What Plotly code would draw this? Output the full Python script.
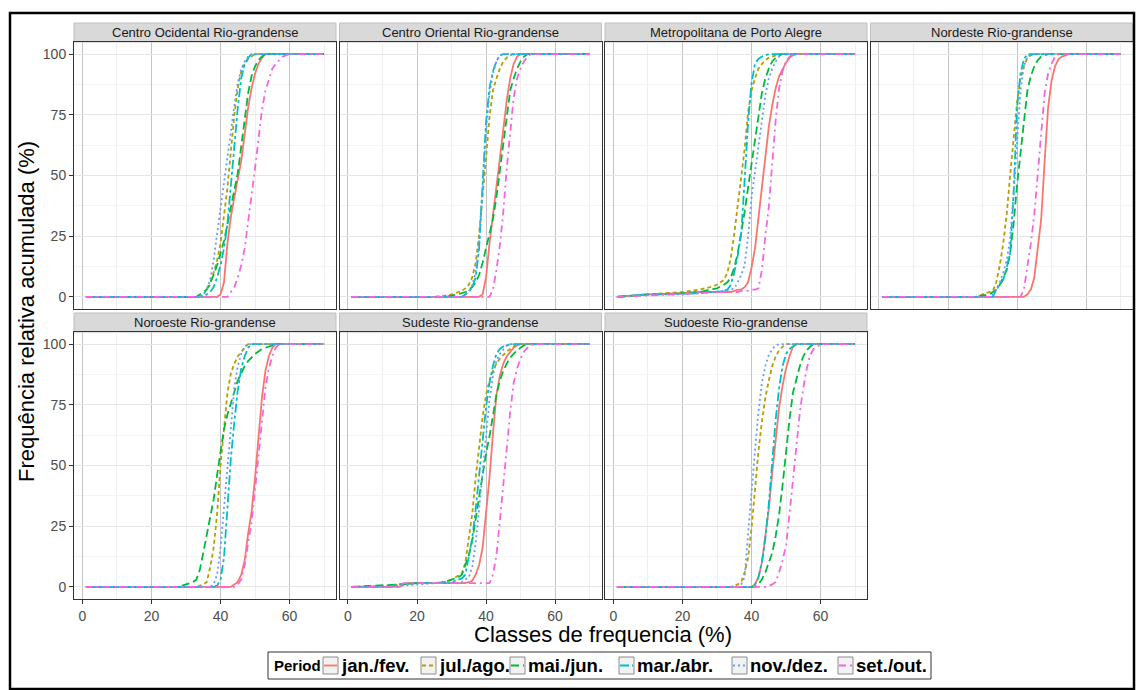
import plotly.graph_objects as go

# ---------------- data ----------------
REGIONS = ["Centro Ocidental Rio-grandense", "Centro Oriental Rio-grandense",
           "Metropolitana de Porto Alegre", "Nordeste Rio-grandense",
           "Noroeste Rio-grandense", "Sudeste Rio-grandense", "Sudoeste Rio-grandense"]
PERIODS = ["jan./fev.", "jul./ago.", "mai./jun.", "mar./abr.", "nov./dez.", "set./out."]
COLORS = ["#F8766D", "#B79F00", "#00BA38", "#00BFC4", "#619CFF", "#F564E3"]
DASHES = ["solid", "4px,3px", "8px,4px", "9px,3px,3px,3px", "2px,3px", "7px,4px,2px,4px"]
X_TICKS = [0, 20, 40, 60]
Y_TICKS = [0, 25, 50, 75, 100]

# (class %, cumulative %) pairs
CO_JAN = [(1,0),(39,0),(40,1),(41,6),(42,22),(43,33),(44,41),(45,48),(46,56),(47,67),(48,78),(49,86),(50,92),(51,96),(52,98.5),(53,100),(70,100)]
CO_JUL = [(1,0),(34,0),(35,1),(36,3),(37,5),(38,10),(39,15),(40,22),(41,33),(42,45),(43,60),(44,75),(45,86),(46,93),(47,96),(48,98),(49,99),(50,100),(70,100)]
CO_MAI = [(1,0),(33,0),(34,1),(35,2),(36,3),(37,6),(38,9),(39,13),(40,18),(41,23),(42,30),(43,37),(44,44),(45,51),(46,62),(47,74),(48,84),(49,91),(50,95),(51,97.5),(52,99),(53,100),(70,100)]
CO_MAR = [(1,0),(35,0),(36,1),(37,2),(38,4),(39,8),(40,13),(41,20),(42,30),(43,46),(44,62),(45,78),(46,90),(47,96),(48,98.5),(49,100),(70,100)]
CO_NOV = [(1,0),(34,0),(35,1),(36,3),(37,7),(38,15),(39,26),(40,36),(41,46),(42,57),(43,68),(44,79),(45,88),(46,94),(47,97),(48,99),(49,100),(70,100)]
CO_SET = [(1,0),(42,0),(43,2),(44,4),(45,8),(46,13),(47,20),(48,30),(49,42),(50,53),(51,65),(52,77),(53,85),(54,90),(55,94),(56,96),(57,97.5),(58,99),(60,100),(70,100)]

CE_JAN = [(1,0),(38,0),(39,1),(40,8),(41,22),(42,33),(43,45),(44,57),(45,69),(46,81),(47,90),(48,96),(49,99),(50,100),(70,100)]
CE_JUL = [(1,0),(25,0),(28,0.5),(30,1),(32,2),(33,2.5),(34,3.5),(35,5),(36,8),(37,14),(38,26),(39,40),(40,57),(41,74),(42,85),(43,90),(44,94),(45,97),(46,98.5),(47,99.5),(48,100),(70,100)]
CE_MAI = [(1,0),(28,0),(30,0.5),(32,1),(33,1.5),(34,2),(35,3),(36,4),(37,6),(38,9),(39,14),(40,20),(41,25),(42,32),(43,41),(44,52),(45,64),(46,76),(47,85),(48,90),(49,94),(50,97),(51,99),(52,100),(70,100)]
CE_MAR = [(1,0),(33,0),(34,1),(35,2),(36,4),(37,8),(38,20),(39,48),(40,72),(41,86),(42,93),(43,97),(44,99.5),(45,100),(70,100)]
CE_NOV = [(1,0),(33,0),(34,1),(35,2),(36,5),(37,10),(38,22),(39,45),(40,68),(41,84),(42,92),(43,97),(44,99.5),(45,100),(70,100)]
CE_SET = [(1,0),(41,0),(42,3),(43,11),(44,21),(45,35),(46,53),(47,68),(48,82),(49,90),(50,94),(51,97),(52,99),(53,100),(70,100)]

MP_JAN = [(1,0),(10,1),(20,1.5),(25,2),(34,2),(35,2.5),(36,3),(37,3),(38,4),(39,6),(40,12),(41,20),(42,32),(43,46),(44,58),(45,70),(46,79),(47,86),(48,91),(49,94),(50,96.5),(51,98.5),(52,99.5),(53,100),(70,100)]
MP_JUL = [(1,0),(10,1),(15,1.5),(20,2),(25,3),(28,4),(30,5),(32,7),(33,10),(34,16),(35,26),(36,37),(37,48),(38,61),(39,76),(40,85),(41,90),(42,94),(43,96),(44,97.5),(45,98.5),(46,99),(47,99.5),(48,100),(70,100)]
MP_MAI = [(1,0),(10,1),(15,1),(20,1.5),(25,2),(28,3),(30,3.5),(32,5),(33,6),(34,8),(35,12),(36,18),(37,26),(38,35),(39,45),(40,55),(41,65),(42,76),(43,84),(44,90),(45,94),(46,97),(47,98.5),(48,99.5),(49,100),(70,100)]
MP_MAR = [(1,0),(10,1),(15,1.2),(20,1.5),(25,1.5),(28,2),(30,2),(32,2.5),(33,3),(34,5),(35,10),(36,17),(37,26),(38,48),(39,72),(40,88),(41,96),(42,98),(43,99),(44,99.5),(45,100),(70,100)]
MP_NOV = [(1,0),(10,1),(20,1),(25,1.5),(28,2),(32,2.5),(34,3),(35,3.5),(36,6),(37,9),(38,13),(39,25),(40,41),(41,52),(42,63),(43,74),(44,83),(45,90),(46,94),(47,97),(48,99),(49,100),(70,100)]
MP_SET = [(1,0),(10,0.5),(20,1),(25,1.5),(30,2),(36,2),(37,2.5),(39,2.5),(40,3),(41,3),(42,3.5),(43,11),(44,25),(45,37),(46,55),(47,73),(48,86),(49,93),(50,97),(51,99),(52,100),(70,100)]

NE_JAN = [(1,0),(42,0),(43,1),(44,3),(45,8),(46,20),(47,32),(48,56),(49,78),(50,89),(51,95),(52,98),(53,99),(54,99.5),(55,100),(70,100)]
NE_JUL = [(1,0),(28,0),(30,1),(32,2),(33,2.5),(34,6),(35,13),(36,22),(37,34),(38,50),(39,66),(40,80),(41,90),(42,95),(43,98.5),(44,99.5),(45,100),(70,100)]
NE_MAI = [(1,0),(28,0),(30,0.5),(32,1),(33,2),(34,3),(35,5),(36,8),(37,11),(38,18),(39,30),(40,46),(41,60),(42,74),(43,85),(44,91),(45,95),(46,97.5),(47,99),(48,99.5),(49,100),(70,100)]
NE_MAR = [(1,0),(33,0),(34,3),(35,5),(36,7),(37,12),(38,18),(39,42),(40,78),(41,92),(42,98),(43,100),(70,100)]
NE_NOV = [(1,0),(32,0),(33,1),(34,3),(35,6),(36,10),(37,15),(38,24),(39,42),(40,66),(41,85),(42,95),(43,99),(44,100),(70,100)]
NE_SET = [(1,0),(41,0),(42,3),(43,12),(44,22),(45,34),(46,50),(47,69),(48,84),(49,92),(50,96),(51,99),(52,100),(70,100)]

NO_JAN = [(1,0),(43,0),(44,1),(45,2),(46,5),(47,11),(48,22),(49,31),(50,45),(51,63),(52,78),(53,89),(54,95),(55,98.5),(56,100),(70,100)]
NO_JUL = [(1,0),(33,0),(34,0.5),(35,1),(36,2),(37,8),(38,16),(39,30),(40,50),(41,66),(42,80),(43,88),(44,92),(45,95),(46,97),(47,98.5),(48,100),(70,100)]
NO_MAI = [(1,0),(28,0),(30,1),(32,2),(33,3),(34,7),(35,14),(36,21),(37,29),(38,36),(39,46),(40,56),(41,65),(42,71),(43,76),(44,81),(45,85),(46,88),(47,91),(48,93),(49,94.5),(50,96),(51,97),(52,98),(53,98.5),(54,99),(55,99.5),(56,100),(70,100)]
NO_MAR = [(1,0),(38,0),(39,0.5),(40,3),(41,12),(42,32),(43,53),(44,68),(45,81),(46,90),(47,95),(48,98.5),(49,100),(70,100)]
NO_NOV = [(1,0),(37,0),(38,1),(39,5),(40,16),(41,33),(42,50),(43,68),(44,82),(45,91),(46,96),(47,99),(48,100),(70,100)]
NO_SET = [(1,0),(44,0),(45,1),(46,3),(47,9),(48,18),(49,27),(50,40),(51,55),(52,70),(53,82),(54,90),(55,95),(56,98.5),(57,100),(70,100)]

SE_JAN = [(1,0),(15,0),(17,1.5),(34,1.5),(35,2),(36,2.5),(37,5),(38,9),(39,16),(40,30),(41,45),(42,63),(43,79),(44,87),(45,92),(46,95),(47,97),(48,98.5),(49,99.5),(50,100),(70,100)]
SE_JUL = [(1,0),(12,0.5),(15,1),(20,1.5),(25,1.5),(28,2),(30,3),(32,4.5),(33,5.5),(34,10),(35,19),(36,30),(37,45),(38,58),(39,70),(40,79),(41,85),(42,89),(43,92),(44,94),(45,95.5),(46,97),(47,98),(48,99),(49,100),(70,100)]
SE_MAI = [(1,0),(10,0.5),(15,1),(20,1.5),(25,1.5),(28,2),(30,3),(32,4),(33,5),(34,9),(35,13),(36,19),(37,28),(38,37),(39,46),(40,55),(41,62),(42,70),(43,79),(44,85),(45,89),(46,92),(47,94.5),(48,96),(49,97.5),(50,98.5),(51,99.5),(52,100),(70,100)]
SE_MAR = [(1,0),(12,0),(14,1),(20,1.5),(28,1.5),(30,2),(32,3),(33,3.5),(34,5),(35,12),(36,20),(37,32),(38,46),(39,58),(40,74),(41,84),(42,91),(43,96),(44,98),(45,99),(46,99.5),(47,100),(70,100)]
SE_NOV = [(1,0),(10,0),(20,1),(25,1.5),(32,1.5),(33,2),(34,3),(35,4),(36,8),(37,18),(38,32),(39,47),(40,63),(41,77),(42,87),(43,93),(44,96),(45,98),(46,99.5),(47,100),(70,100)]
SE_SET = [(1,0),(15,0),(16,1.5),(41,1.5),(42,5),(43,13),(44,27),(45,42),(46,58),(47,72),(48,84),(49,90),(50,94),(51,97),(52,98.5),(53,99.5),(54,100),(70,100)]

SW_JAN = [(1,0),(40,0),(41,1),(42,4),(43,10),(44,20),(45,32),(46,47),(47,62),(48,74),(49,83),(50,90),(51,95),(52,99),(53,100),(70,100)]
SW_JUL = [(1,0),(34,0),(35,0.5),(36,1),(37,2),(38,6),(39,12),(40,24),(41,40),(42,56),(43,68),(44,78),(45,85),(46,91),(47,95),(48,97.5),(49,99),(50,100),(70,100)]
SW_MAI = [(1,0),(41,0),(42,1),(43,3),(44,6),(45,10),(46,14),(47,21),(48,30),(49,42),(50,56),(51,69),(52,80),(53,86),(54,91),(55,95),(56,97.5),(57,99),(58,100),(70,100)]
SW_MAR = [(1,0),(40,0),(41,1),(42,4),(43,10),(44,20),(45,34),(46,52),(47,69),(48,82),(49,91),(50,96),(51,98),(52,99),(53,100),(70,100)]
SW_NOV = [(1,0),(36,0),(37,1),(38,4),(39,22),(40,40),(41,56),(42,72),(43,84),(44,91),(45,95.5),(46,98),(47,99.5),(48,100),(70,100)]
SW_SET = [(1,0),(44,0),(45,0.5),(46,1),(47,2),(48,6),(49,11),(50,17),(51,30),(52,45),(53,58),(54,72),(55,82),(56,90),(57,95.5),(58,98),(60,100),(70,100)]

SERIES = [
    [CO_JAN, CO_JUL, CO_MAI, CO_MAR, CO_NOV, CO_SET],
    [CE_JAN, CE_JUL, CE_MAI, CE_MAR, CE_NOV, CE_SET],
    [MP_JAN, MP_JUL, MP_MAI, MP_MAR, MP_NOV, MP_SET],
    [NE_JAN, NE_JUL, NE_MAI, NE_MAR, NE_NOV, NE_SET],
    [NO_JAN, NO_JUL, NO_MAI, NO_MAR, NO_NOV, NO_SET],
    [SE_JAN, SE_JUL, SE_MAI, SE_MAR, SE_NOV, SE_SET],
    [SW_JAN, SW_JUL, SW_MAI, SW_MAR, SW_NOV, SW_SET],
]

# ---------------- layout geometry (pixels) ----------------
W, H = 1136, 690
COL_LEFT = [74, 339.5, 605, 870.5]
PANEL_W = 262
ROW_TOP = [42, 332]
PANEL_H = 267
STRIP_H = 19
FONT = "Liberation Sans, Arial, sans-serif"
LEG_KEY_LEFT = [323, 421, 510, 619, 732, 838]

def px(x):
    return x / W

def py(y):
    return 1 - y / H

fig = go.Figure()
layout = dict(width=W, height=H, margin=dict(l=0, r=0, t=0, b=0),
              paper_bgcolor="white", plot_bgcolor="white", showlegend=False,
              font=dict(family=FONT, color="#1A1A1A"))
shapes, annotations = [], []

for i, region in enumerate(REGIONS):
    row, col = divmod(i, 4)
    n = "" if i == 0 else str(i + 1)
    x0, x1 = COL_LEFT[col], COL_LEFT[col] + PANEL_W
    y0, y1 = ROW_TOP[row], ROW_TOP[row] + PANEL_H
    show_x = row == 1
    show_y = col == 0
    layout["xaxis" + n] = dict(
        domain=[px(x0), px(x1)], anchor="y" + n, range=[-2.45, 73.45],
        tickvals=X_TICKS, showticklabels=show_x, ticks="outside" if show_x else "",
        ticklen=4, tickcolor="#333333", tickfont=dict(size=14, color="#4D4D4D"),
        showgrid=True, gridcolor="#C4C4C4", gridwidth=1, zeroline=False,
        minor=dict(dtick=20, tick0=10, showgrid=True, gridcolor="#EEEEEE", ticks=""),
        showline=True, mirror=True, linecolor="#333333", linewidth=1)
    layout["yaxis" + n] = dict(
        domain=[py(y1), py(y0)], anchor="x" + n, range=[-5, 105],
        tickvals=Y_TICKS, showticklabels=show_y, ticks="outside" if show_y else "",
        ticklen=4, tickcolor="#333333", tickfont=dict(size=14, color="#4D4D4D"),
        showgrid=True, gridcolor="#E6E6E6", gridwidth=1, zeroline=False,
        minor=dict(dtick=25, tick0=12.5, showgrid=True, gridcolor="#F4F4F4", ticks=""),
        showline=True, mirror=True, linecolor="#333333", linewidth=1)
    # strip
    shapes.append(dict(type="rect", xref="paper", yref="paper",
                       x0=px(x0), x1=px(x1), y0=py(y0), y1=py(y0 - STRIP_H),
                       fillcolor="#D9D9D9", line=dict(color="#C0C0C0", width=1), layer="below"))
    annotations.append(dict(text=region, xref="paper", yref="paper",
                            x=px((x0 + x1) / 2), y=py(y0 - STRIP_H / 2),
                            showarrow=False, font=dict(size=13, color="#1A1A1A"),
                            xanchor="center", yanchor="middle"))
    for k, period in enumerate(PERIODS):
        pts = SERIES[i][k]
        fig.add_trace(go.Scatter(
            x=[p[0] for p in pts], y=[p[1] for p in pts], mode="lines",
            name=period, legendgroup=period, showlegend=False,
            line=dict(color=COLORS[k], dash=DASHES[k], width=1.8),
            xaxis="x" + n, yaxis="y" + n))

# axis titles
annotations.append(dict(text="Classes de frequencia (%)", xref="paper", yref="paper",
                        x=px(603), y=py(634), showarrow=False,
                        font=dict(size=22, color="black"), xanchor="center", yanchor="middle"))
annotations.append(dict(text="Frequência relativa acumulada (%)", xref="paper", yref="paper",
                        x=px(26), y=py(312), showarrow=False, textangle=-90,
                        font=dict(size=22, color="black"), xanchor="center", yanchor="middle"))

# legend (drawn as a ggplot-style guide box)
LEG_Y = 665.5
shapes.append(dict(type="rect", xref="paper", yref="paper",
                   x0=px(268), x1=px(931), y0=py(679), y1=py(652),
                   line=dict(color="#333333", width=1), fillcolor="white"))
annotations.append(dict(text="<b>Period</b>", xref="paper", yref="paper",
                        x=px(272), y=py(LEG_Y), showarrow=False, xanchor="left", yanchor="middle",
                        font=dict(size=15, color="black")))
for k, period in enumerate(PERIODS):
    kl = LEG_KEY_LEFT[k]
    shapes.append(dict(type="rect", xref="paper", yref="paper",
                       x0=px(kl), x1=px(kl + 15), y0=py(674), y1=py(657),
                       line=dict(color="#8C8C8C", width=1), fillcolor="#F2F2F2"))
    shapes.append(dict(type="line", xref="paper", yref="paper",
                       x0=px(kl + 1), x1=px(kl + 14), y0=py(LEG_Y), y1=py(LEG_Y),
                       line=dict(color=COLORS[k], width=1.8, dash=DASHES[k])))
    annotations.append(dict(text="<b>" + period + "</b>", xref="paper", yref="paper",
                            x=px(kl + 16), y=py(LEG_Y), showarrow=False,
                            xanchor="left", yanchor="middle",
                            font=dict(size=18.5, color="black")))

# outer frame
shapes.append(dict(type="rect", xref="paper", yref="paper",
                   x0=px(10), x1=px(1134), y0=py(689), y1=py(13),
                   line=dict(color="black", width=2.5), fillcolor="rgba(0,0,0,0)"))

layout["shapes"] = shapes
layout["annotations"] = annotations
fig.update_layout(**layout)
fig.write_html("out.html")
